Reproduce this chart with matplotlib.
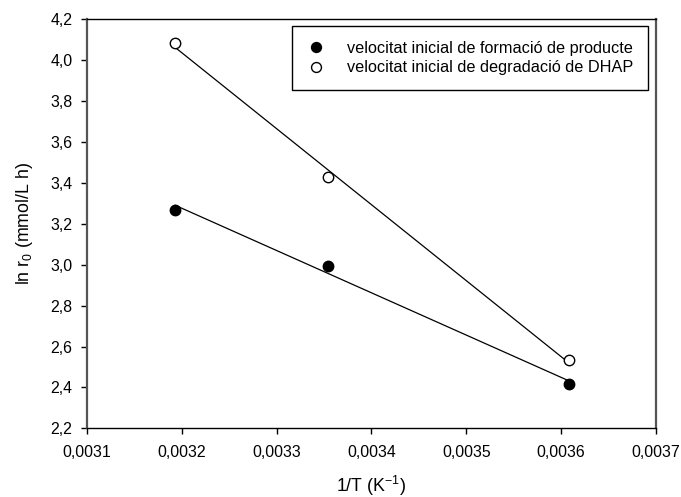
import matplotlib
matplotlib.use("Agg")
import matplotlib.pyplot as plt
import numpy as np

plt.rcParams['font.family'] = ['Liberation Sans', 'DejaVu Sans']
plt.rcParams['mathtext.fontset'] = 'custom'
plt.rcParams['mathtext.rm'] = 'Liberation Sans'
plt.rcParams['mathtext.it'] = 'Liberation Sans:italic'

# Data
inv_T = [0.003193, 0.003354, 0.003608]
producte = [3.268, 2.995, 2.418]
dhap = [4.084, 3.43, 2.534]
label_prod = "velocitat inicial de formació de producte"
label_dhap = "velocitat inicial de degradació de DHAP"
xticks = [0.0031, 0.0032, 0.0033, 0.0034, 0.0035, 0.0036, 0.0037]
yticks = [2.2, 2.4, 2.6, 2.8, 3.0, 3.2, 3.4, 3.6, 3.8, 4.0, 4.2]

fig = plt.figure(figsize=(6.81, 4.97), dpi=100)
ax = fig.add_axes([87/681, 1-428.3/497, (656-87)/681, (428.3-19.4)/497])

x = np.array(inv_T)
xfit = np.array([x.min(), x.max()])
for yv in (producte, dhap):
    p = np.polyfit(x, np.array(yv), 1)
    ax.plot(xfit, np.polyval(p, xfit), color='black', lw=0.9, zorder=2)

ax.plot(inv_T, producte, 'o', ms=7.5, mfc='black', mec='black', mew=1.0,
        label=label_prod, zorder=3)
ax.plot(inv_T, dhap, 'o', ms=7.5, mfc='white', mec='black', mew=1.0,
        label=label_dhap, zorder=3)

ax.set_xlim(0.0031, 0.0037)
ax.set_ylim(2.2, 4.2)
ax.set_xticks(xticks)
ax.set_yticks(yticks)
ax.set_xticklabels([f"{v:.4f}".replace('.', ',') for v in xticks])
ax.set_yticklabels([f"{v:.1f}".replace('.', ',') for v in yticks])
ax.tick_params(axis='both', direction='out', labelsize=11.4, colors='black')
ax.tick_params(axis='x', length=4, width=1, pad=8)
ax.tick_params(axis='y', length=4, width=1, pad=6.5)

for s in ('left', 'right'):
    ax.spines[s].set_color('#555555')
    ax.spines[s].set_linewidth(1.6)
for s in ('top', 'bottom'):
    ax.spines[s].set_color('black')
    ax.spines[s].set_linewidth(1.0)

ax.set_xlabel(r'1/T (K$^{\mathregular{-1}}$)', fontsize=12.8, labelpad=10)
ax.set_ylabel(r'ln r$_{\mathregular{0}}$ (mmol/L h)', fontsize=12.8, labelpad=11)

leg = ax.legend(loc='upper right', bbox_to_anchor=(0.986, 0.984), borderaxespad=0,
                fontsize=11.7, frameon=True, fancybox=False, edgecolor='black',
                handlelength=1.2, handletextpad=1.3, labelspacing=0.3,
                borderpad=0.9, numpoints=1, markerscale=0.95)
leg.get_frame().set_linewidth(1.0)
leg.get_frame().set_alpha(1)

fig.savefig("out.png", dpi=100)
